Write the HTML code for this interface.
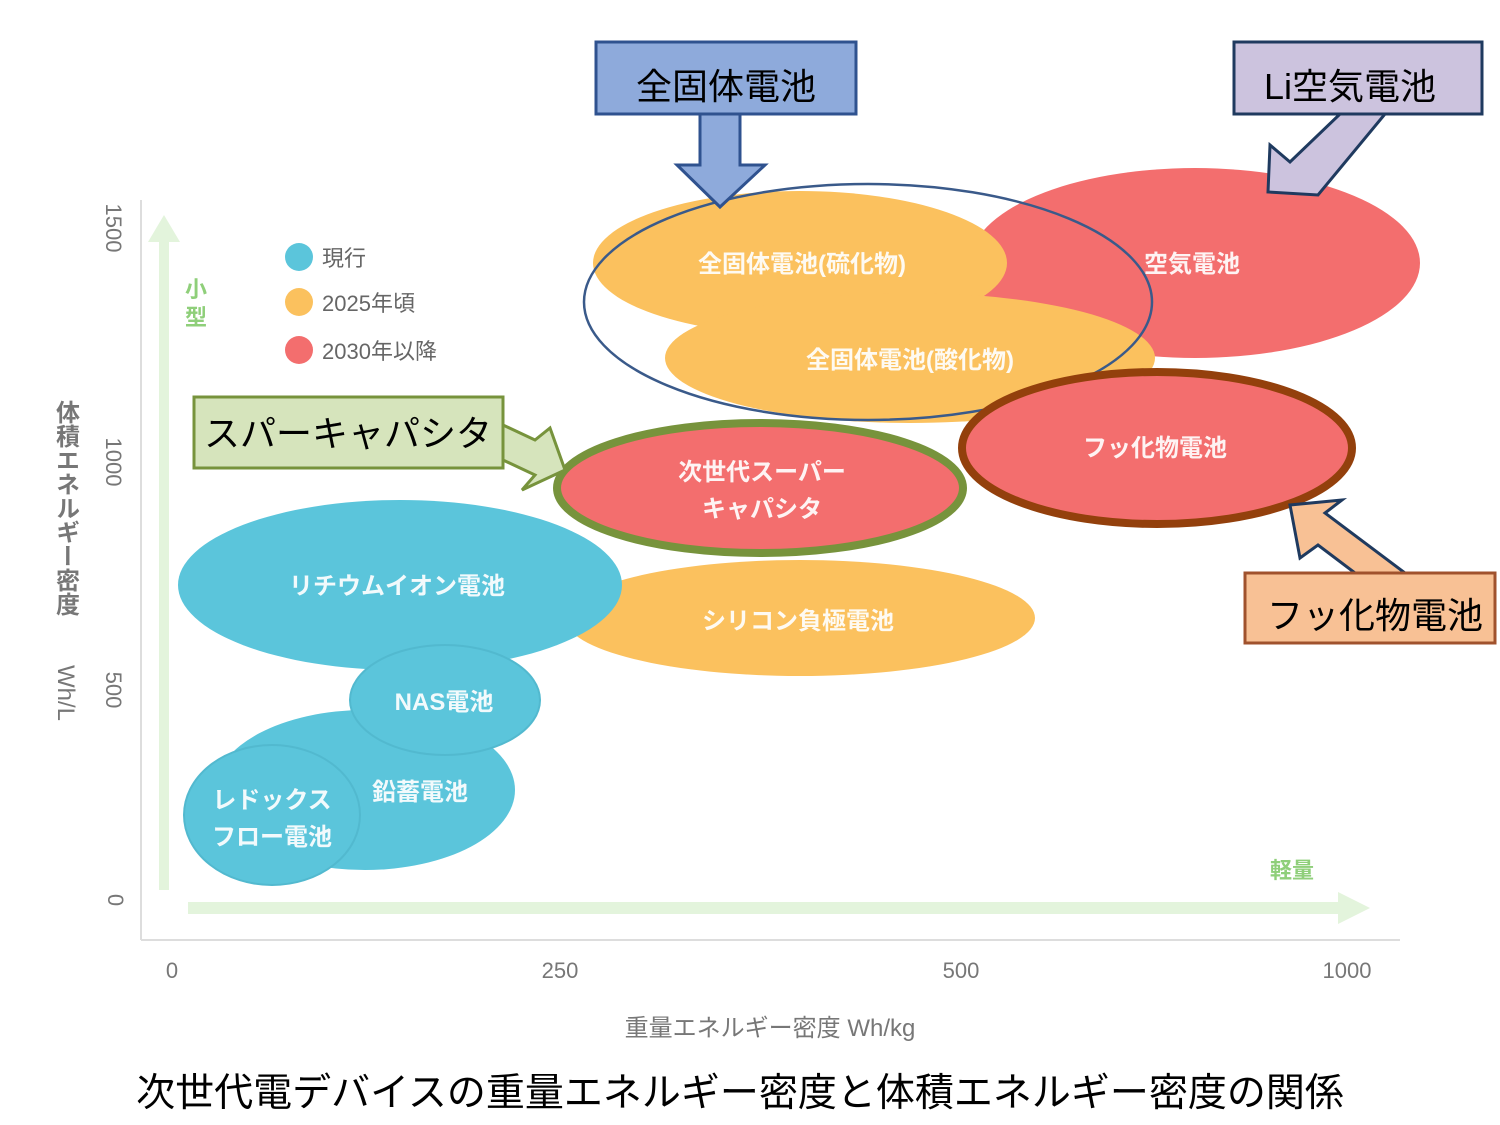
<!DOCTYPE html>
<html><head><meta charset="utf-8"><style>
html,body{margin:0;padding:0;background:#fff;}
svg{display:block;}
text{font-family:"Liberation Sans","Noto Sans CJK JP",sans-serif;}
</style></head><body>
<svg width="1500" height="1125" viewBox="0 0 1500 1125" xmlns="http://www.w3.org/2000/svg">
<rect width="1500" height="1125" fill="#fff"/>
<line x1="141" y1="200" x2="141" y2="940" stroke="#ddd" stroke-width="2"/>
<line x1="141" y1="940" x2="1400" y2="940" stroke="#ddd" stroke-width="2"/>
<rect x="159" y="240" width="10" height="650" fill="#e3f4dc"/>
<polygon points="148,242 164,215 180,242" fill="#e3f4dc"/>
<rect x="188" y="902" width="1150" height="12" fill="#e3f4dc"/>
<polygon points="1338,892 1370,908 1338,924" fill="#e3f4dc"/>
<text x="196" y="297" font-size="22" fill="#8fcf7a" text-anchor="middle" font-weight="bold">小</text>
<text x="196" y="325" font-size="22" fill="#8fcf7a" text-anchor="middle" font-weight="bold">型</text>
<text x="1292" y="878" font-size="22" fill="#8fcf7a" text-anchor="middle" font-weight="bold">軽量</text>
<g font-size="22" fill="#777" text-anchor="middle">
<text x="172" y="978">0</text>
<text x="560" y="978">250</text>
<text x="961" y="978">500</text>
<text x="1347" y="978">1000</text>
<text x="770" y="1036" font-size="24">重量エネルギー密度 Wh/kg</text>
<text transform="translate(108,900) rotate(90)" text-anchor="middle">0</text>
<text transform="translate(106,690) rotate(90)" text-anchor="middle">500</text>
<text transform="translate(106,462) rotate(90)" text-anchor="middle">1000</text>
<text transform="translate(106,228) rotate(90)" text-anchor="middle">1500</text>
</g>
<g font-size="24" fill="#777" font-weight="bold">
<text x="65" y="400" writing-mode="tb">体積エネルギー密度</text>
<text transform="translate(58,665) rotate(90)" font-weight="normal">Wh/L</text>
</g>
<circle cx="299" cy="257" r="14" fill="#5bc5db"/>
<circle cx="299" cy="302" r="14" fill="#fbc15e"/>
<circle cx="299" cy="350" r="14" fill="#f36e6e"/>
<g font-size="22" fill="#666">
<text x="322" y="266">現行</text>
<text x="322" y="311">2025年頃</text>
<text x="322" y="359">2030年以降</text>
</g>
<ellipse cx="1195" cy="263" rx="225" ry="95" fill="#f36e6e"/>
<ellipse cx="800" cy="263" rx="207" ry="72" fill="#fbc15e"/>
<ellipse cx="910" cy="358" rx="245" ry="65" fill="#fbc15e"/>
<ellipse cx="800" cy="618" rx="235" ry="58" fill="#fbc15e"/>
<ellipse cx="400" cy="585" rx="222" ry="85" fill="#5bc5db"/>
<ellipse cx="365" cy="790" rx="150" ry="80" fill="#5bc5db"/>
<ellipse cx="445" cy="700" rx="95" ry="55" fill="#5bc5db" stroke="#52b9cf" stroke-width="2"/>
<ellipse cx="272" cy="815" rx="88" ry="70" fill="#5bc5db" stroke="#52b9cf" stroke-width="2"/>
<ellipse cx="868" cy="302" rx="284" ry="118" fill="none" stroke="#3a5a8a" stroke-width="2.5"/>
<ellipse cx="1157" cy="448" rx="195" ry="76" fill="#f36e6e" stroke="#93400c" stroke-width="8"/>
<ellipse cx="760" cy="488" rx="203" ry="65" fill="#f36e6e" stroke="#77933c" stroke-width="8"/>
<g font-size="24" fill="#fff" font-weight="bold" text-anchor="middle" opacity="0.92">
<text x="802" y="272">全固体電池(硫化物)</text>
<text x="910" y="368">全固体電池(酸化物)</text>
<text x="1192" y="272">空気電池</text>
<text x="1155" y="456">フッ化物電池</text>
<text x="762" y="480">次世代スーパー</text>
<text x="762" y="517">キャパシタ</text>
<text x="397" y="594">リチウムイオン電池</text>
<text x="798" y="629">シリコン負極電池</text>
<text x="444" y="710">NAS電池</text>
<text x="420" y="800">鉛蓄電池</text>
<text x="272" y="808">レドックス</text>
<text x="272" y="845">フロー電池</text>
</g>
<polygon points="700,114 740,114 740,165 765,165 720,207 677,165 700,165" fill="#8eaadb" stroke="#2f528f" stroke-width="3"/>
<rect x="596" y="42" width="260" height="72" fill="#8eaadb" stroke="#2f528f" stroke-width="3"/>
<text x="726" y="99" font-size="36" text-anchor="middle">全固体電池</text>
<polygon points="1340,114 1385,114 1318,195 1268,192 1270,145 1290,162" fill="#ccc3de" stroke="#1f3a5f" stroke-width="3"/>
<rect x="1234" y="42" width="248" height="72" fill="#ccc3de" stroke="#1f3a5f" stroke-width="3"/>
<text x="1350" y="99" font-size="36" text-anchor="middle">Li空気電池</text>
<polygon points="503,425 535,440 550,428 565,470 522,490 535,475 503,460" fill="#d6e4bc" stroke="#77933c" stroke-width="3"/>
<rect x="194" y="397" width="309" height="71" fill="#d6e4bc" stroke="#77933c" stroke-width="3"/>
<text x="348" y="446" font-size="36" text-anchor="middle">スパーキャパシタ</text>
<polygon points="1405,573 1355,573 1318,545 1300,558 1290,505 1342,500 1325,513" fill="#f8c195" stroke="#1f3a5f" stroke-width="3"/>
<rect x="1245" y="573" width="250" height="70" fill="#f8c195" stroke="#a0522d" stroke-width="3"/>
<text x="1375" y="628" font-size="36" text-anchor="middle">フッ化物電池</text>
<text x="740" y="1106" font-size="39" text-anchor="middle">次世代電デバイスの重量エネルギー密度と体積エネルギー密度の関係</text>
</svg>
</body></html>
